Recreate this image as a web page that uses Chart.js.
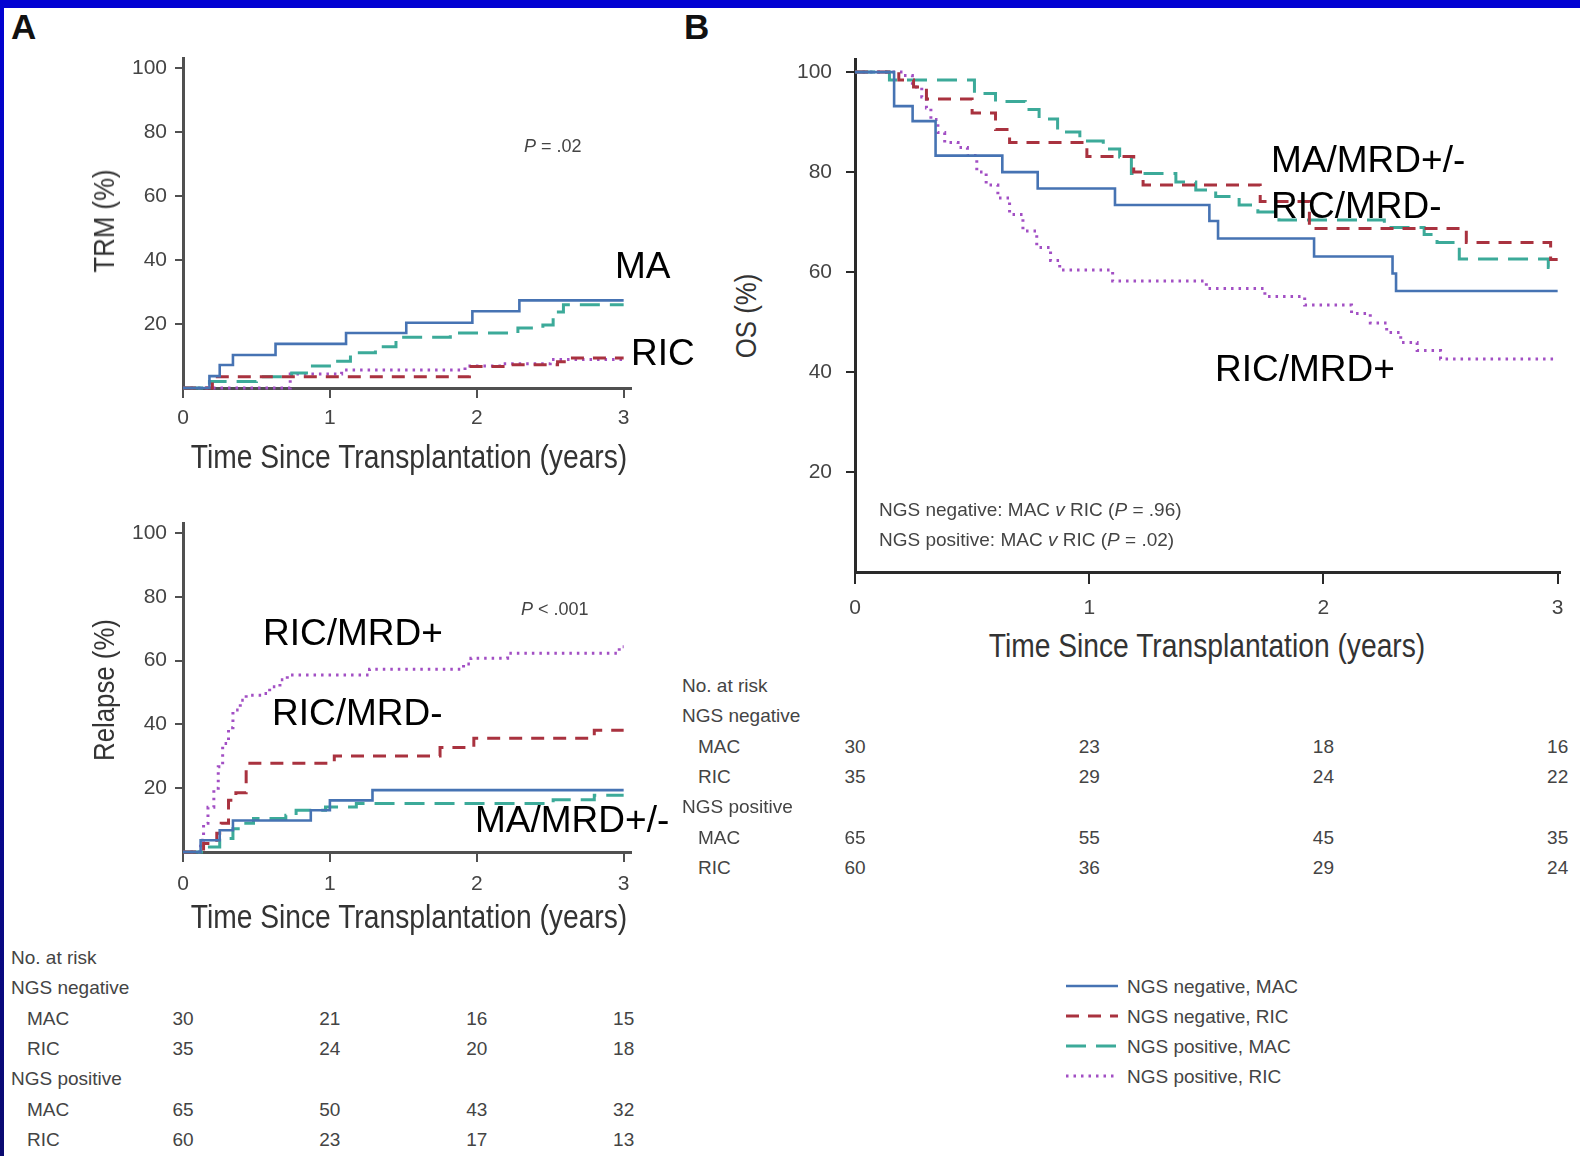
<!DOCTYPE html>
<html>
<head>
<meta charset="utf-8">
<script src="https://cdn.jsdelivr.net/npm/chart.js@4.4.1/dist/chart.umd.min.js"></script>
<style>
  html, body { margin: 0; padding: 0; background: #fff; }
  body { width: 1580px; height: 1156px; position: relative; overflow: hidden;
         font-family: 'Liberation Sans', Arial, sans-serif; color: #444; }
  .abs { position: absolute; white-space: nowrap; line-height: 1; transform: translateY(-50%); }
  .wrap { position: absolute; }
  .panel { font-weight: bold; font-size: 35px; color: #111; }
  .big { font-size: 37px; color: #000; }
  .xt { font-size: 34px; color: #333; transform: translate(-50%, -50%) scaleX(0.83); }
  .yt { font-size: 30px; color: #333; transform: translate(-50%, -50%) rotate(-90deg) scaleX(0.86); }
  .sm { font-size: 19px; color: #444; }
  .pv { font-size: 18px; color: #444; }
  #topbar { position: absolute; left: 0; top: 0; width: 1580px; height: 8px; background: #0202d2; }
  #leftbar { position: absolute; left: 0; top: 0; width: 4px; height: 1156px;
             background: linear-gradient(#0202d2, #0a0a70); }
</style>
</head>
<body>
<div id="topbar"></div>
<div id="leftbar"></div>

<div class="abs panel" style="left:11px; top:26px;">A</div>
<div class="abs panel" style="left:684px; top:26px;">B</div>

<div class="wrap" id="trm-wrap"><canvas id="trm"></canvas></div>
<div class="wrap" id="rel-wrap"><canvas id="rel"></canvas></div>
<div class="wrap" id="os-wrap"><canvas id="os"></canvas></div>

<!-- axis titles -->
<div class="abs yt" style="left:104px; top:221px;">TRM (%)</div>
<div class="abs xt" style="left:409px; top:456px;">Time Since Transplantation (years)</div>
<div class="abs yt" style="left:104px; top:690px;">Relapse (%)</div>
<div class="abs xt" style="left:409px; top:916px;">Time Since Transplantation (years)</div>
<div class="abs yt" style="left:746px; top:316px;">OS (%)</div>
<div class="abs xt" style="left:1207px; top:645px;">Time Since Transplantation (years)</div>

<!-- p values and curve labels -->
<div class="abs pv" style="left:524px; top:146px;"><i>P</i> = .02</div>
<div class="abs pv" style="left:521px; top:609px;"><i>P</i> &lt; .001</div>
<div class="abs sm" style="left:879px; top:509px;">NGS negative: MAC <i>v</i> RIC (<i>P</i> = .96)</div>
<div class="abs sm" style="left:879px; top:539px;">NGS positive: MAC <i>v</i> RIC (<i>P</i> = .02)</div>

<div class="abs big" style="left:615px; top:265px;">MA</div>
<div class="abs big" style="left:631px; top:352px;">RIC</div>
<div class="abs big" style="left:263px; top:632px;">RIC/MRD+</div>
<div class="abs big" style="left:272px; top:712px;">RIC/MRD-</div>
<div class="abs big" style="left:475px; top:819px;">MA/MRD+/-</div>
<div class="abs big" style="left:1271px; top:159px;">MA/MRD+/-</div>
<div class="abs big" style="left:1271px; top:205px;">RIC/MRD-</div>
<div class="abs big" style="left:1215px; top:368px;">RIC/MRD+</div>

<div id="risk-left"></div>
<div id="risk-right"></div>
<div id="legend"></div>

<script>
// ── DATA ────────────────────────────────────────────────────────────────
var yearTicks = [0, 1, 2, 3];
var pctTicks = [20, 40, 60, 80, 100];
var seriesNames = ['NGS negative, MAC', 'NGS negative, RIC', 'NGS positive, MAC', 'NGS positive, RIC'];

// TRM (cumulative incidence, %)
var trmNegMacT = [0, 0.18, 0.25, 0.34, 0.63, 1.11, 1.52, 1.97, 2.29, 3.0];
var trmNegMacV = [0, 3.7, 7.2, 10.3, 13.8, 17.2, 20.4, 24.0, 27.4, 27.4];
var trmNegRicT = [0, 0.20, 1.95, 2.20, 2.55, 2.63, 3.0];
var trmNegRicV = [0, 3.5, 6.7, 7.3, 8.2, 9.4, 9.4];
var trmPosMacT = [0, 0.18, 0.50, 0.74, 0.86, 1.02, 1.14, 1.31, 1.45, 1.82, 2.28, 2.45, 2.52, 2.59, 3.0];
var trmPosMacV = [0, 2.0, 3.5, 4.7, 6.9, 8.4, 11.0, 12.9, 15.9, 17.2, 18.8, 19.7, 23.8, 26.0, 26.0];
var trmPosRicT = [0, 0.73, 1.08, 1.92, 2.18, 2.50, 3.0];
var trmPosRicV = [0, 4.4, 5.6, 6.9, 7.6, 8.9, 8.9];

// Relapse (cumulative incidence, %)
var relNegMacT = [0, 0.12, 0.25, 0.34, 0.87, 1.0, 1.29, 3.0];
var relNegMacV = [0, 3.7, 6.8, 9.9, 13.1, 16.2, 19.4, 19.4];
var relNegRicT = [0, 0.14, 0.23, 0.26, 0.31, 0.36, 0.43, 1.03, 1.75, 1.98, 2.80, 3.0];
var relNegRicV = [0, 2.7, 5.9, 9.0, 16.2, 18.6, 27.8, 30.1, 32.8, 35.7, 38.2, 38.2];
var relPosMacT = [0, 0.18, 0.25, 0.34, 0.39, 0.48, 0.70, 0.77, 0.97, 1.18, 2.52, 2.80, 3.0];
var relPosMacV = [0, 1.6, 4.2, 7.3, 9.0, 10.5, 11.5, 13.1, 14.1, 15.2, 16.4, 17.8, 17.8];
var relPosRicT = [0, 0.12, 0.14, 0.17, 0.21, 0.24, 0.27, 0.31, 0.34, 0.39, 0.43, 0.55, 0.59, 0.66, 0.71, 1.27, 1.91, 1.96, 2.21, 2.97, 3.0];
var relPosRicV = [0, 3.7, 9.0, 14.0, 20.0, 26.7, 34.0, 39.0, 44.5, 47.6, 49.2, 49.7, 51.8, 54.0, 55.5, 57.3, 59.0, 60.8, 62.3, 64.4, 64.4];

// Overall survival (%)
var osNegMacT = [0, 0.167, 0.246, 0.344, 0.629, 0.78, 1.11, 1.513, 1.55, 1.96, 2.295, 2.31, 3.0];
var osNegMacV = [100, 93.2, 90.2, 83.3, 80.0, 76.7, 73.4, 70.2, 66.7, 63.1, 59.7, 56.2, 56.2];
var osNegRicT = [0, 0.187, 0.25, 0.305, 0.50, 0.60, 0.66, 0.99, 1.19, 1.23, 1.73, 1.94, 2.61, 2.97, 3.0];
var osNegRicV = [100, 98.4, 97.0, 94.6, 91.8, 88.5, 85.9, 83.1, 80.0, 77.4, 74.1, 68.7, 65.9, 62.5, 62.5];
var osPosMacT = [0, 0.147, 0.51, 0.60, 0.727, 0.786, 0.865, 0.96, 1.06, 1.13, 1.18, 1.37, 1.455, 1.54, 1.64, 1.72, 1.81, 2.26, 2.43, 2.485, 2.58, 2.96, 3.0];
var osPosMacV = [100, 98.4, 95.7, 94.1, 92.5, 90.6, 88.0, 86.2, 84.6, 83.0, 79.7, 78.0, 76.4, 75.1, 73.4, 72.0, 70.4, 68.9, 67.5, 65.9, 62.6, 60.9, 60.9];
var osPosRicT = [0, 0.206, 0.245, 0.285, 0.305, 0.324, 0.354, 0.383, 0.44, 0.48, 0.52, 0.56, 0.61, 0.66, 0.717, 0.776, 0.835, 0.874, 1.10, 1.50, 1.75, 1.92, 2.12, 2.20, 2.27, 2.33, 2.40, 2.50, 3.0];
var osPosRicV = [100, 99.3, 97.0, 95.0, 92.8, 90.5, 87.9, 85.9, 84.9, 83.3, 80.0, 77.4, 74.8, 71.5, 68.2, 64.9, 62.3, 60.4, 58.2, 56.7, 55.1, 53.4, 51.7, 49.8, 47.9, 45.9, 44.3, 42.6, 42.6];

// Numbers at risk
var riskGroups = ['NGS negative', 'NGS positive'];
var riskArms = ['MAC', 'RIC'];
var leftRiskNegMac = [30, 21, 16, 15];
var leftRiskNegRic = [35, 24, 20, 18];
var leftRiskPosMac = [65, 50, 43, 32];
var leftRiskPosRic = [60, 23, 17, 13];
var rightRiskNegMac = [30, 23, 18, 16];
var rightRiskNegRic = [35, 29, 24, 22];
var rightRiskPosMac = [65, 55, 45, 35];
var rightRiskPosRic = [60, 36, 29, 24];

// ── STYLE ───────────────────────────────────────────────────────────────
var AXIS = '#505050';
var SERIES_STYLE = [
  { color: '#4673b3', dash: [], width: 2.6 },
  { color: '#a9323f', dash: [13, 9], width: 3 },
  { color: '#3caa99', dash: [20, 10], width: 3 },
  { color: '#a24fc4', dash: [2.5, 5], width: 3 }
];

function pts(t, v) {
  return t.map(function(x, i) { return { x: x, y: v[i] }; });
}

function axis(max, ticks, isX, tickLen, pad, col) {
  return {
    type: 'linear',
    min: 0,
    max: max,
    afterBuildTicks: function(s) { s.ticks = ticks.map(function(v) { return { value: v }; }); },
    afterFit: function(s) { if (isX) s.height = 50; else s.width = 70; },
    border: { display: true, color: col, width: 3 },
    grid: { display: true, drawOnChartArea: false, drawTicks: true, tickLength: tickLen,
            color: col, tickColor: col, lineWidth: 2 },
    ticks: { color: '#444', font: { family: 'Liberation Sans', size: 21 }, padding: pad,
             autoSkip: false, maxRotation: 0, callback: function(v) { return String(v); } }
  };
}

// box = where the plot area sits on the page
function kmChart(id, box, xMax, yMax, series, xTick, xPad, yTick, yPad, col) {
  var padL = 70, padT = 20, padR = 30, padB = 50;
  var w = Math.round(box.right - box.left) + padL + padR;
  var h = Math.round(box.bottom - box.top) + padT + padB;
  var wrap = document.getElementById(id + '-wrap');
  var canvas = document.getElementById(id);
  canvas.width = w; canvas.height = h;
  canvas.style.width = w + 'px'; canvas.style.height = h + 'px';
  wrap.style.left = (box.left - padL) + 'px';
  wrap.style.top = (box.top - padT) + 'px';

  var datasets = series.map(function(s, i) {
    var st = SERIES_STYLE[i];
    return {
      label: seriesNames[i],
      data: s,
      stepped: 'before',
      borderColor: st.color,
      borderWidth: st.width,
      borderDash: st.dash,
      pointRadius: 0,
      fill: false,
      clip: 6
    };
  });

  var chart = new Chart(canvas, {
    type: 'line',
    data: { datasets: datasets },
    options: {
      responsive: false,
      animation: false,
      devicePixelRatio: 1,
      layout: { padding: { top: padT, right: padR, left: 0, bottom: 0 } },
      plugins: { legend: { display: false }, tooltip: { enabled: false } },
      scales: {
        x: axis(xMax, yearTicks, true, xTick, xPad, col),
        y: axis(yMax, pctTicks, false, yTick, yPad, col)
      }
    }
  });

  // nudge the canvas so the plot area lands on the box
  wrap.style.left = (box.left - chart.chartArea.left) + 'px';
  wrap.style.top = (box.top - chart.chartArea.top) + 'px';
  return chart;
}

var trmBox = { left: 183, right: 631.4, top: 58.4, bottom: 388 };
var relBox = { left: 183, right: 631.4, top: 523.4, bottom: 852 };
var osBox  = { left: 855, right: 1560.2, top: 59.8, bottom: 579 };

var trmChart = kmChart('trm', trmBox, 3.05, 103, [
  pts(trmNegMacT, trmNegMacV), pts(trmNegRicT, trmNegRicV),
  pts(trmPosMacT, trmPosMacV), pts(trmPosRicT, trmPosRicV)
], 10, 8, 8, 8, AXIS);

var relChart = kmChart('rel', relBox, 3.05, 103, [
  pts(relNegMacT, relNegMacV), pts(relNegRicT, relNegRicV),
  pts(relPosMacT, relPosMacV), pts(relPosRicT, relPosRicV)
], 10, 10, 8, 8, AXIS);

var osChart = kmChart('os', osBox, 3.01, 102.5, [
  pts(osNegMacT, osNegMacV), pts(osNegRicT, osNegRicV),
  pts(osPosMacT, osPosMacV), pts(osPosRicT, osPosRicV)
], 12, 12, 9, 14, '#2a2a2a');

// ── NUMBERS AT RISK ─────────────────────────────────────────────────────
function riskTable(hostId, chart, wrapId, left, top, step, rows) {
  var host = document.getElementById(hostId);
  var wrapLeft = parseFloat(document.getElementById(wrapId).style.left);
  var html = '<div class="abs sm" style="left:' + left + 'px;top:' + top + 'px;">No. at risk</div>';
  var r = 1;
  riskGroups.forEach(function(g, gi) {
    html += '<div class="abs sm" style="left:' + left + 'px;top:' + (top + step * r) + 'px;">' + g + '</div>';
    r++;
    riskArms.forEach(function(a, ai) {
      var y = top + step * r;
      html += '<div class="abs sm" style="left:' + (left + 16) + 'px;top:' + y + 'px;">' + a + '</div>';
      rows[gi * 2 + ai].forEach(function(n, k) {
        var x = wrapLeft + chart.scales.x.getPixelForValue(yearTicks[k]);
        html += '<div class="abs sm" style="left:' + x + 'px;top:' + y + 'px;transform:translate(-50%,-50%);">' + n + '</div>';
      });
      r++;
    });
  });
  host.innerHTML = html;
}

riskTable('risk-left', relChart, 'rel-wrap', 11, 957, 30.3,
  [leftRiskNegMac, leftRiskNegRic, leftRiskPosMac, leftRiskPosRic]);
riskTable('risk-right', osChart, 'os-wrap', 682, 685, 30.3,
  [rightRiskNegMac, rightRiskNegRic, rightRiskPosMac, rightRiskPosRic]);

// ── LEGEND ──────────────────────────────────────────────────────────────
(function() {
  var html = '';
  seriesNames.forEach(function(name, i) {
    var st = SERIES_STYLE[i];
    var y = 986 + i * 30;
    html += '<svg style="position:absolute;left:1064px;top:' + (y - 5) + 'px" width="56" height="10">' +
      '<line x1="2" y1="5" x2="54" y2="5" stroke="' + st.color + '" stroke-width="' + st.width + '"' +
      (st.dash.length ? ' stroke-dasharray="' + st.dash.join(',') + '"' : '') + '/></svg>';
    html += '<div class="abs sm" style="left:1127px;top:' + y + 'px;">' + name + '</div>';
  });
  document.getElementById('legend').innerHTML = html;
})();
</script>
</body>
</html>
